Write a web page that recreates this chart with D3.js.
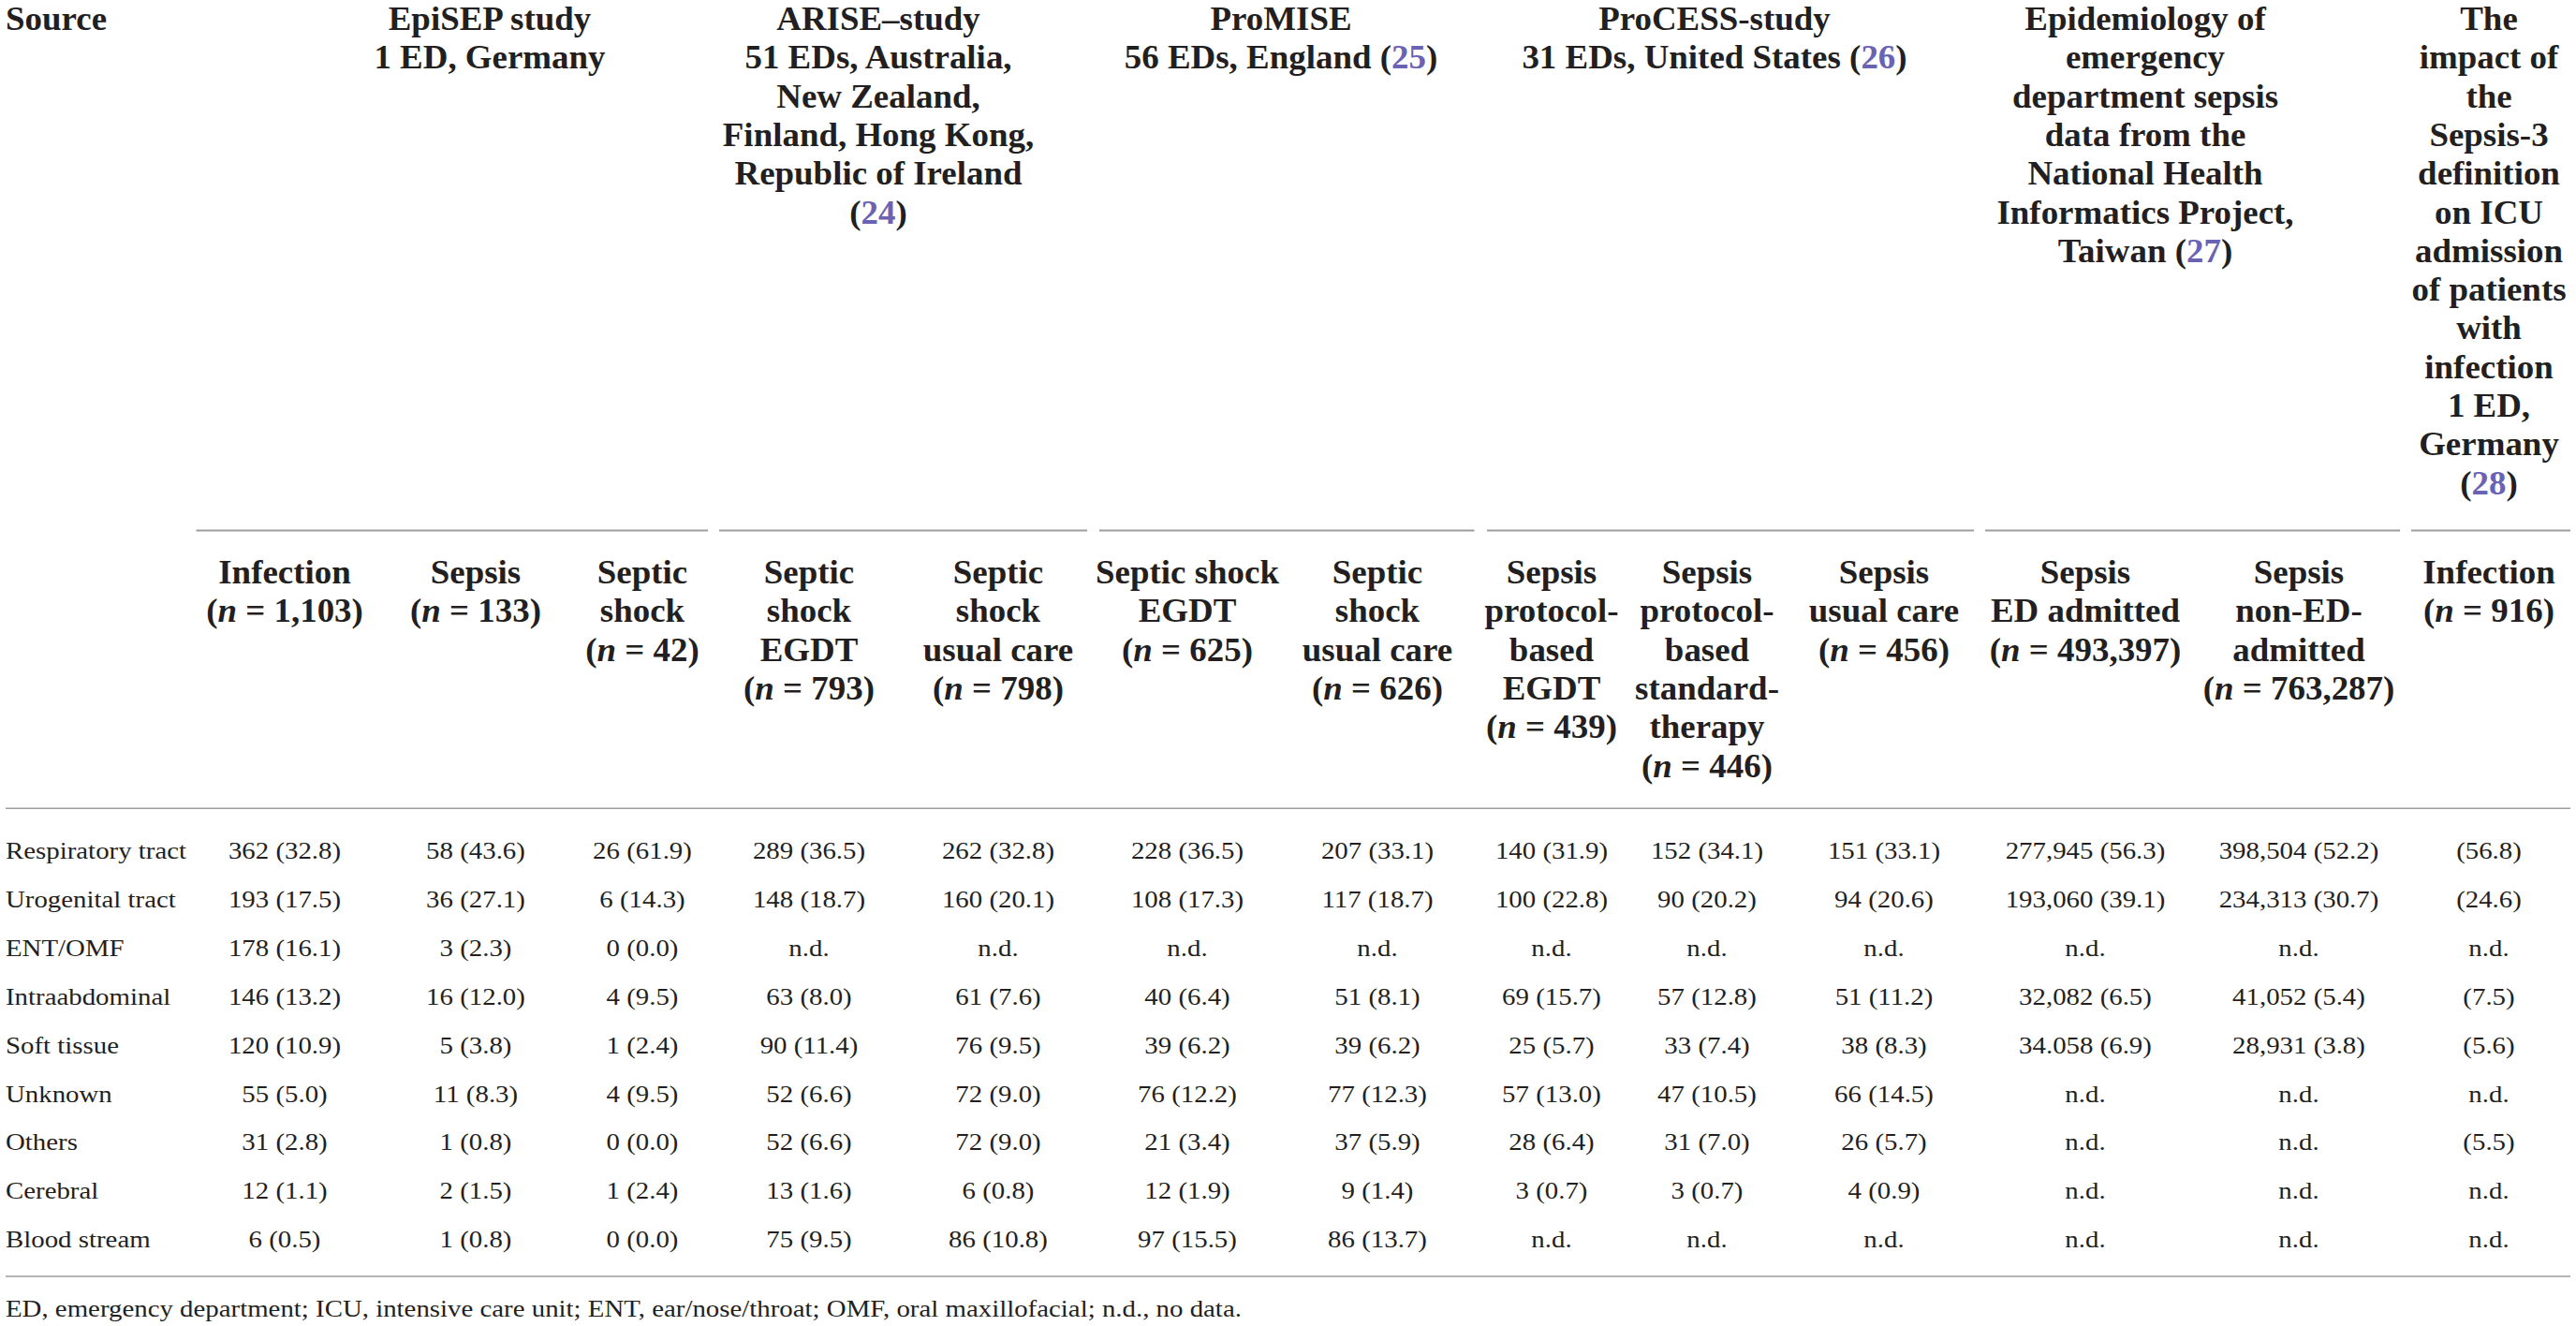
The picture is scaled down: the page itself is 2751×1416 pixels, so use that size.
<!DOCTYPE html>
<html><head><meta charset="utf-8">
<script src="https://cdn.jsdelivr.net/npm/d3@7"></script>
<style>html,body{margin:0;padding:0;background:#fff;} svg{display:block;}</style>
</head><body><div id="chart"></div>
<script>
// ---------- DATA ----------
const categories = ["Respiratory tract","Urogenital tract","ENT/OMF","Intraabdominal","Soft tissue","Unknown","Others","Cerebral","Blood stream"];

const groupKeys = ["episep","arise","promise","process","taiwan","impact"];
const sourceLabel = "Source";
const groupEpisep  = ["EpiSEP study","1 ED, Germany"];
const groupArise   = ["ARISE\u2013study","51 EDs, Australia,","New Zealand,","Finland, Hong Kong,","Republic of Ireland","({24})"];
const groupPromise = ["ProMISE","56 EDs, England ({25})"];
const groupProcess = ["ProCESS-study","31 EDs, United States ({26})"];
const groupTaiwan  = ["Epidemiology of","emergency","department sepsis","data from the","National Health","Informatics Project,","Taiwan ({27})"];
const groupImpact  = ["The","impact of","the","Sepsis-3","definition","on ICU","admission","of patients","with","infection","1 ED,","Germany","({28})"];

const colKeys = ["c1","c2","c3","c4","c5","c6","c7","c8","c9","c10","c11","c12","c13"];
const colHeads = [
  ["Infection","(n = 1,103)"],
  ["Sepsis","(n = 133)"],
  ["Septic","shock","(n = 42)"],
  ["Septic","shock","EGDT","(n = 793)"],
  ["Septic","shock","usual care","(n = 798)"],
  ["Septic shock","EGDT","(n = 625)"],
  ["Septic","shock","usual care","(n = 626)"],
  ["Sepsis","protocol-","based","EGDT","(n = 439)"],
  ["Sepsis","protocol-","based","standard-","therapy","(n = 446)"],
  ["Sepsis","usual care","(n = 456)"],
  ["Sepsis","ED admitted","(n = 493,397)"],
  ["Sepsis","non-ED-","admitted","(n = 763,287)"],
  ["Infection","(n = 916)"]
];

const episepInfection = ["362 (32.8)","193 (17.5)","178 (16.1)","146 (13.2)","120 (10.9)","55 (5.0)","31 (2.8)","12 (1.1)","6 (0.5)"];
const episepSepsis    = ["58 (43.6)","36 (27.1)","3 (2.3)","16 (12.0)","5 (3.8)","11 (8.3)","1 (0.8)","2 (1.5)","1 (0.8)"];
const episepShock     = ["26 (61.9)","6 (14.3)","0 (0.0)","4 (9.5)","1 (2.4)","4 (9.5)","0 (0.0)","1 (2.4)","0 (0.0)"];
const ariseEgdt       = ["289 (36.5)","148 (18.7)","n.d.","63 (8.0)","90 (11.4)","52 (6.6)","52 (6.6)","13 (1.6)","75 (9.5)"];
const ariseUsual      = ["262 (32.8)","160 (20.1)","n.d.","61 (7.6)","76 (9.5)","72 (9.0)","72 (9.0)","6 (0.8)","86 (10.8)"];
const promiseEgdt     = ["228 (36.5)","108 (17.3)","n.d.","40 (6.4)","39 (6.2)","76 (12.2)","21 (3.4)","12 (1.9)","97 (15.5)"];
const promiseUsual    = ["207 (33.1)","117 (18.7)","n.d.","51 (8.1)","39 (6.2)","77 (12.3)","37 (5.9)","9 (1.4)","86 (13.7)"];
const processEgdt     = ["140 (31.9)","100 (22.8)","n.d.","69 (15.7)","25 (5.7)","57 (13.0)","28 (6.4)","3 (0.7)","n.d."];
const processStandard = ["152 (34.1)","90 (20.2)","n.d.","57 (12.8)","33 (7.4)","47 (10.5)","31 (7.0)","3 (0.7)","n.d."];
const processUsual    = ["151 (33.1)","94 (20.6)","n.d.","51 (11.2)","38 (8.3)","66 (14.5)","26 (5.7)","4 (0.9)","n.d."];
const taiwanEd        = ["277,945 (56.3)","193,060 (39.1)","n.d.","32,082 (6.5)","34.058 (6.9)","n.d.","n.d.","n.d.","n.d."];
const taiwanNonEd     = ["398,504 (52.2)","234,313 (30.7)","n.d.","41,052 (5.4)","28,931 (3.8)","n.d.","n.d.","n.d.","n.d."];
const impactInfection = ["(56.8)","(24.6)","n.d.","(7.5)","(5.6)","n.d.","(5.5)","n.d.","n.d."];

const footnote = "ED, emergency department; ICU, intensive care unit; ENT, ear/nose/throat; OMF, oral maxillofacial; n.d., no data.";

// ---------- LAYOUT ----------
const W = 2751, H = 1416;
const LEFT = 6, RIGHT = 2745;
const headFont = 35, headKx = 1.055, headPitch = 41.3, groupBase = 32, subBase = 623;
const bodyFont = 26, bodyKx = 1.11;
const groupRuleY = 566.5, headRuleY = 863.3, bottomRuleY = 1363, footBase = 1406;
const ink = "#231f20", refColor = "#6a62b3", ruleColor = "#9d9d9d";
const FONT = "'Liberation Serif','Times New Roman',serif";

const groupLines = [groupEpisep, groupArise, groupPromise, groupProcess, groupTaiwan, groupImpact];
const columns = [episepInfection, episepSepsis, episepShock, ariseEgdt, ariseUsual, promiseEgdt, promiseUsual,
                 processEgdt, processStandard, processUsual, taiwanEd, taiwanNonEd, impactInfection];

const xCol = d3.scaleOrdinal().domain(colKeys).range([304, 508, 686, 864, 1066, 1268, 1471, 1657, 1823, 2012, 2227, 2455, 2658]);
const xGroup = d3.scaleOrdinal().domain(groupKeys).range([523, 938, 1368, 1831, 2291, 2658]);
const ruleStart = d3.scaleOrdinal().domain(groupKeys).range([209.5, 768, 1174, 1588, 2120, 2575]);
const ruleEnd = d3.scaleOrdinal().domain(groupKeys).range([756, 1161, 1574.5, 2108, 2563, 2745]);
const yRow = d3.scalePoint().domain(categories).range([917, 1332.3]);
const yHeadLine = d3.scaleLinear().domain([0, 1]).range([0, headPitch]);

const svg = d3.select("#chart").append("svg").attr("width", W).attr("height", H)
  .attr("font-family", FONT).attr("fill", ink);
svg.append("rect").attr("width", W).attr("height", H).attr("fill", "#fff");

// rich text writer: handles {ref} and italic n
function writeRich(sel, str) {
  const m = str.match(/^\(n = (.*)\)$/);
  if (m) {
    sel.append("tspan").text("(");
    sel.append("tspan").attr("font-style", "italic").text("n");
    sel.append("tspan").text(" = " + m[1] + ")");
    return;
  }
  const parts = str.split(/\{(\d+)\}/);
  parts.forEach((p, i) => {
    if (!p) return;
    const t = sel.append("tspan").text(p);
    if (i % 2 === 1) t.attr("fill", refColor);
  });
}

function headText(parent, x, y, str, anchor) {
  const t = parent.append("text")
    .attr("transform", `translate(${x},${y}) scale(${headKx},1)`)
    .attr("text-anchor", anchor || "middle")
    .attr("font-size", headFont).attr("font-weight", "bold");
  writeRich(t, str);
  return t;
}

// Source
headText(svg, LEFT, groupBase, sourceLabel, "start");

// group headers
const gHead = svg.append("g");
groupKeys.forEach((k, gi) => {
  groupLines[gi].forEach((line, li) => headText(gHead, xGroup(k), groupBase + yHeadLine(li), line));
});

// group rules
svg.append("g").selectAll("line").data(groupKeys).join("line")
  .attr("x1", d => ruleStart(d)).attr("x2", d => ruleEnd(d))
  .attr("y1", groupRuleY).attr("y2", groupRuleY)
  .attr("stroke", ruleColor).attr("stroke-width", 2);

// column headers
const gSub = svg.append("g");
colKeys.forEach((k, ci) => {
  colHeads[ci].forEach((line, li) => headText(gSub, xCol(k), subBase + yHeadLine(li), line));
});

// full rules
svg.append("g").selectAll("line").data([headRuleY, bottomRuleY]).join("line")
  .attr("x1", LEFT).attr("x2", RIGHT).attr("y1", d => d).attr("y2", d => d)
  .attr("stroke", ruleColor).attr("stroke-width", 1.6);

// row labels
svg.append("g").selectAll("text").data(categories).join("text")
  .attr("transform", d => `translate(${LEFT},${yRow(d)}) scale(${bodyKx},1)`)
  .attr("font-size", bodyFont).text(d => d);

// body values
const gBody = svg.append("g");
colKeys.forEach((k, ci) => {
  gBody.append("g").selectAll("text").data(columns[ci].map((v, i) => ({v, cat: categories[i]}))).join("text")
    .attr("transform", d => `translate(${xCol(k)},${yRow(d.cat)}) scale(${bodyKx},1)`)
    .attr("text-anchor", "middle").attr("font-size", bodyFont).text(d => d.v);
});

// footnote
svg.append("text").attr("transform", `translate(${LEFT},${footBase}) scale(${bodyKx},1)`)
  .attr("font-size", bodyFont).text(footnote);
</script>
</body></html>
